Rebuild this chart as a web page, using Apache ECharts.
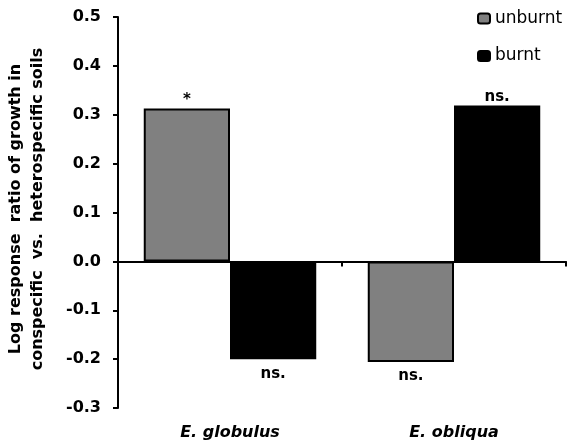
<!DOCTYPE html>
<html><head><meta charset="utf-8">
<script src="https://cdn.jsdelivr.net/npm/echarts@6/dist/echarts.min.js"></script>
<style>html,body{margin:0;padding:0;background:#fff}#c{width:567px;height:443px}</style>
</head><body><div id="c"></div>
<script>
const categories = ['E. globulus', 'E. obliqua'];
const unburnt = [0.313, -0.206];
const burnt = [-0.200, 0.319];
const unburntNotes = ['*', 'ns.'];
const burntNotes = ['ns.', 'ns.'];
const yTicks = [-0.3, -0.2, -0.1, 0.0, 0.1, 0.2, 0.3, 0.4, 0.5];

const FONT = '"DejaVu Sans", Verdana, sans-serif';
function mk(vals, notes) {
  return vals.map((v, i) => ({
    value: v,
    label: { position: v >= 0 ? 'top' : 'bottom', distance: v >= 0 ? 1 : 7, formatter: notes[i] }
  }));
}
const chart = echarts.init(document.getElementById('c'), null, { renderer: 'canvas' });
chart.setOption({
  animation: false,
  backgroundColor: '#fff',
  grid: { left: 118, right: 1, top: 17, bottom: 35, containLabel: false, outerBoundsMode: 'none' },
  legend: {
    orient: 'vertical', left: 477, top: 10, padding: 0, itemWidth: 12, itemHeight: 10, itemGap: 20.5,
    textStyle: { fontFamily: FONT, fontSize: 17, color: '#000' },
    data: ['unburnt', 'burnt']
  },
  xAxis: [
    { type: 'category', data: categories,
      axisLine: { onZero: true, lineStyle: { color: '#000', width: 2 } },
      axisTick: { show: true, length: 5, lineStyle: { color: '#000', width: 2 } },
      axisLabel: { show: false }, splitLine: { show: false } },
    { type: 'category', data: categories, position: 'bottom',
      axisLine: { show: false, onZero: false }, axisTick: { show: false },
      axisLabel: { show: true, margin: 17, fontFamily: FONT, fontSize: 16, fontWeight: 'bold', fontStyle: 'italic', color: '#000' } }
  ],
  yAxis: {
    type: 'value', min: yTicks[0], max: yTicks[yTicks.length - 1], interval: 0.1,
    axisLine: { show: true, lineStyle: { color: '#000', width: 2 } },
    axisTick: { show: true, length: 5, lineStyle: { color: '#000', width: 2 } },
    splitLine: { show: false },
    axisLabel: { margin: 17, fontFamily: FONT, fontSize: 16, fontWeight: 'bold', color: '#000',
      formatter: v => v.toFixed(1) },
    name: 'Log response  ratio of growth in\nconspecific  vs.  heterospecific soils',
    nameLocation: 'middle', nameRotate: 90, nameGap: 69,
    nameTextStyle: { fontFamily: FONT, fontSize: 16, fontWeight: 'bold', color: '#000', lineHeight: 22, padding: [0, 0, 0, 7] }
  },
  series: [
    { name: 'unburnt', type: 'bar', data: mk(unburnt, unburntNotes), barGap: '0%', barCategoryGap: '23%',
      itemStyle: { color: '#808080', borderColor: '#000', borderWidth: 2 },
      label: { show: true, fontFamily: FONT, fontSize: 15, fontWeight: 'bold', color: '#000' } },
    { name: 'burnt', type: 'bar', data: mk(burnt, burntNotes), barGap: '0%', barCategoryGap: '23%',
      itemStyle: { color: '#000', borderColor: '#000', borderWidth: 2 },
      label: { show: true, fontFamily: FONT, fontSize: 15, fontWeight: 'bold', color: '#000' } }
  ]
});
</script></body></html>
